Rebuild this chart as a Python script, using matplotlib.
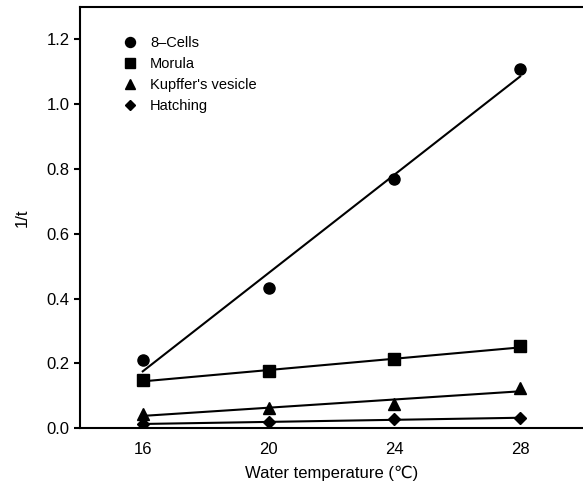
import numpy as np
import matplotlib
matplotlib.use('Agg')
import matplotlib.pyplot as plt

plt.rcParams['font.family'] = ['Liberation Sans', 'DejaVu Sans']

temps = [16, 20, 24, 28]
cells8 = [0.209, 0.434, 0.770, 1.108]
morula = [0.148, 0.175, 0.212, 0.252]
kupffer = [0.043, 0.063, 0.073, 0.124]
hatching = [0.012, 0.020, 0.027, 0.031]

series = [('8\u2013Cells', cells8, 'o', 8),
          ('Morula', morula, 's', 8),
          ("Kupffer's vesicle", kupffer, '^', 8),
          ('Hatching', hatching, 'D', 6)]

fig = plt.figure(figsize=(5.83, 4.91), dpi=100)
ax = fig.add_axes([0.137, 0.128, 0.863, 0.858])

x = np.array(temps)
for name, vals, mk, ms in series:
    p = np.polyfit(x, vals, 1)
    ax.plot(x, np.polyval(p, x), 'k-', lw=1.5)
    ax.plot(x, vals, 'k', marker=mk, ms=ms, ls='none', label=name)

ax.set_xlim(14, 30)
ax.set_ylim(0, 1.3)
ax.set_xticks(temps)
ax.set_yticks([0.0, 0.2, 0.4, 0.6, 0.8, 1.0, 1.2])
ax.set_yticklabels(['0.0', '0.2', '0.4', '0.6', '0.8', '1.0', '1.2'])
ax.tick_params(labelsize=12, width=1.5, length=4)
ax.tick_params(axis='x', pad=10, length=0)
for s in ['left', 'bottom', 'top']:
    ax.spines[s].set_linewidth(1.5)
ax.spines['right'].set_visible(False)

ax.set_xlabel('Water temperature (\u2103)', fontsize=12, labelpad=6)
ax.set_ylabel('1/t', fontsize=12, labelpad=12)

ax.legend(loc='upper left', bbox_to_anchor=(0.05, 0.955), frameon=False,
          fontsize=10.5, handletextpad=0.4, labelspacing=0.48,
          markerscale=0.9, borderpad=0.2)

fig.savefig('out.png', dpi=100)
